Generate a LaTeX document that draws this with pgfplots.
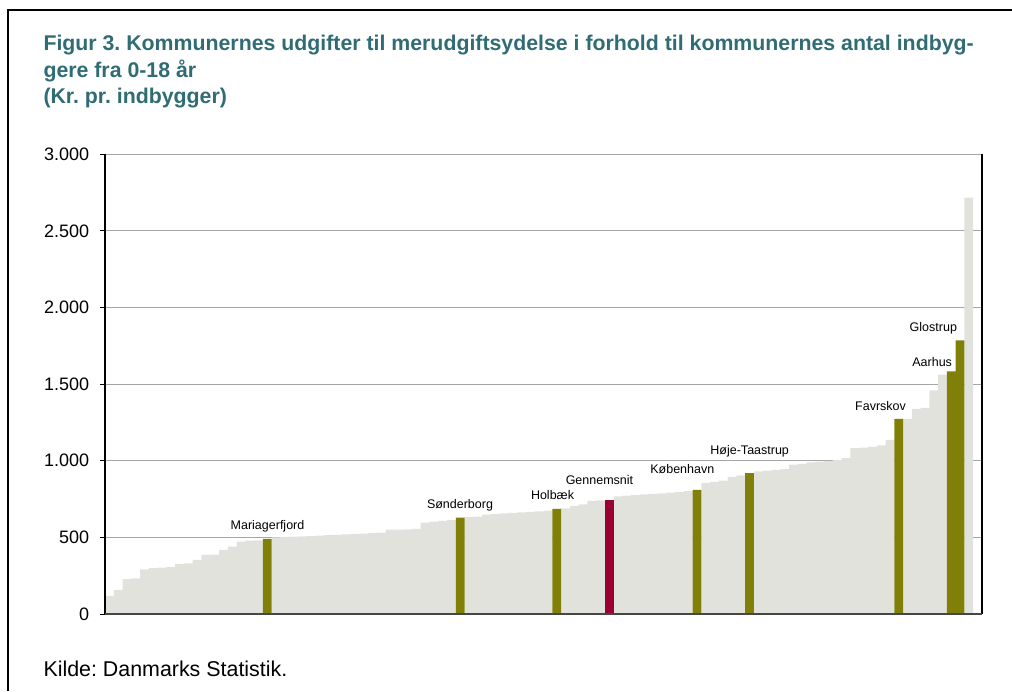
\documentclass[border=0pt]{standalone}
\usepackage{fontspec}
\setmainfont{Liberation Sans}
\usepackage{pgfplots}
\pgfplotsset{compat=1.18}
\frenchspacing
\definecolor{bargrey}{RGB}{226,226,221}
\definecolor{olivebar}{RGB}{128,128,8}
\definecolor{redbar}{RGB}{155,0,52}
\definecolor{titlecol}{RGB}{47,108,115}
\definecolor{gridcol}{RGB}{165,165,165}
\definecolor{baseaxis}{RGB}{70,70,70}
\begin{document}
\begin{tikzpicture}[x=1pt,y=1pt]
\useasboundingbox (0,0) rectangle (1012,691);
\draw[line width=2pt] (8,0) -- (8,681) -- (1012,681);
\tikzset{ttl/.style={anchor=base west, inner sep=0pt, text=titlecol, font=\bfseries\fontsize{21.3}{24}\selectfont}}
\node[ttl] at (43.3,640) {Figur 3. Kommunernes udgifter til merudgiftsydelse i forhold til kommunernes antal indbyg-};
\node[ttl] at (43.3,613.7) {gere fra 0-18 år};
\node[ttl] at (43.3,587) {(Kr. pr. indbygger)};
\node[anchor=base west, inner sep=0pt, font=\fontsize{21.4}{24}\selectfont] at (43.3,15) {Kilde: Danmarks Statistik.};
\begin{axis}[
  at={(105pt,77pt)}, anchor=south west, scale only axis,
  width=877pt, height=459.7pt,
  xmin=-0.5, xmax=99.5, ymin=0, ymax=3000,
  xtick=\empty,
  ytick={0,500,1000,1500,2000,2500,3000},
  yticklabels={0,500,1.000,1.500,2.000,2.500,3.000},
  ytick pos=left, tick align=outside, major tick length=5pt,
  tick style={black, line width=1pt},
  yticklabel style={font=\fontsize{18}{20}\selectfont, inner sep=0pt, xshift=-10.7pt},
  ymajorgrids, grid style={gridcol, line width=0.9pt},
  axis line style={draw=none},
  clip=false,
]
\addplot[ybar, bar width=1, bar shift=0pt, fill=bargrey, draw=none] coordinates {
(0,118) (1,157) (2,227) (3,233) (4,292) (5,299) (6,303) (7,306) (8,327) (9,330)
(10,353) (11,386) (12,388) (13,418) (14,440) (15,473) (16,479) (17,481)
(19,500) (20,503) (21,505) (22,507) (23,509) (24,511) (25,514) (26,516) (27,519) (28,522) (29,525)
(30,528) (31,531) (32,550) (33,551) (34,553) (35,555) (36,597) (37,603) (38,608) (39,612)
(41,633) (42,636) (43,648) (44,652) (45,656) (46,660) (47,664) (48,667) (49,670)
(50,674) (52,690) (53,705) (54,715) (55,738) (56,742) (58,768) (59,772)
(60,776) (61,780) (62,784) (63,788) (64,792) (65,796) (66,802) (68,855) (69,862)
(70,870) (71,895) (72,905) (74,930) (75,935) (76,940) (77,945) (78,975) (79,980)
(80,990) (81,995) (82,1000) (83,1006) (84,1017) (85,1083) (86,1085) (87,1090) (88,1100) (89,1137)
(91,1274) (92,1338) (93,1345) (94,1459) (95,1562) (98,2717)
};
\addplot[ybar, bar width=1, bar shift=0pt, fill=olivebar, draw=none] coordinates {
(18,490) (40,629) (51,686) (67,810) (73,920) (90,1274) (96,1584) (97,1786)
};
\addplot[ybar, bar width=1, bar shift=0pt, fill=redbar, draw=none] coordinates {
(57,745)
};
\draw[black, line width=2pt] (rel axis cs:0,0) -- (rel axis cs:0,1);
\draw[black, line width=1.2pt] (rel axis cs:1,0) -- (rel axis cs:1,1);
\draw[baseaxis, line width=1.3pt] (rel axis cs:0,0) -- (rel axis cs:1,0);
\tikzset{lbl/.style={anchor=base, inner sep=0pt, font=\fontsize{12.5}{14}\selectfont}}
\node[lbl] at (axis cs:18.03,553) {Mariagerfjord};
\node[lbl] at (axis cs:39.98,690) {Sønderborg};
\node[lbl] at (axis cs:50.53,744) {Holbæk};
\node[lbl] at (axis cs:55.88,848) {Gennemsnit};
\node[lbl] at (axis cs:65.33,918) {København};
\node[lbl] at (axis cs:73.01,1038) {Høje-Taastrup};
\node[lbl] at (axis cs:87.93,1325) {Favrskov};
\node[lbl] at (axis cs:93.82,1618) {Aarhus};
\node[lbl] at (axis cs:93.95,1842) {Glostrup};
\end{axis}
\end{tikzpicture}
\end{document}
